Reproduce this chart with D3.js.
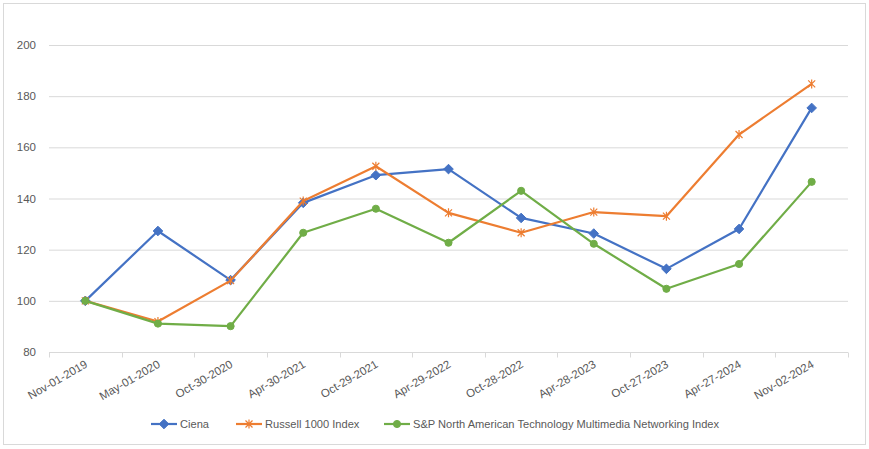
<!DOCTYPE html>
<html>
<head>
<meta charset="utf-8">
<script src="https://cdn.jsdelivr.net/npm/d3@7"></script>
<style>
body { margin: 0; background: #fff; }
svg text { font-family: "Liberation Sans", Arial, sans-serif; fill: #595959; }
</style>
</head>
<body>
<svg id="chart" width="869" height="449"></svg>
<script>
const dates = ['Nov-01-2019', 'May-01-2020', 'Oct-30-2020', 'Apr-30-2021', 'Oct-29-2021', 'Apr-29-2022',
               'Oct-28-2022', 'Apr-28-2023', 'Oct-27-2023', 'Apr-27-2024', 'Nov-02-2024'];
const ciena = [100, 127.3, 108.1, 138.3, 149.1, 151.5, 132.4, 126.3, 112.5, 128.1, 175.4];
const russell = [100, 91.9, 107.9, 139.0, 152.6, 134.4, 126.6, 134.7, 133.1, 165.0, 184.8];
const spNet = [100, 91.1, 90.1, 126.6, 136.0, 122.7, 143.0, 122.3, 104.7, 114.4, 146.5];
const yTicks = [80, 100, 120, 140, 160, 180, 200];
const seriesNames = ['Ciena', 'Russell 1000 Index', 'S&P North American Technology Multimedia Networking Index'];
const seriesColors = ['#4472C4', '#ED7D31', '#70AD47'];

const series = [ciena, russell, spNet].map((values, i) => ({
    name: seriesNames[i], color: seriesColors[i], marker: i, values
}));

const svg = d3.select('#chart');
svg.append('rect').attr('x', 3.5).attr('y', 3.5).attr('width', 862).attr('height', 441)
    .attr('fill', '#fff').attr('stroke', '#d9d9d9');

const left = 49, right = 848;
const x = d3.scaleBand().domain(dates).range([left, right]);
const y = d3.scaleLinear().domain([80, 200]).range([352, 45]);

// gridlines
svg.append('g').selectAll('line').data(yTicks.filter(t => t !== 80)).join('line')
    .attr('x1', left).attr('x2', right)
    .attr('y1', d => y(d) + 0.5).attr('y2', d => y(d) + 0.5)
    .attr('stroke', '#d9d9d9');

// y labels
svg.append('g').selectAll('text').data(yTicks).join('text')
    .attr('x', 36).attr('y', d => y(d) + 4)
    .attr('text-anchor', 'end').attr('font-size', 11.5)
    .text(d => d);

// x axis
const xAxis = svg.append('g').attr('transform', `translate(0,${y(80) + 0.5})`);
xAxis.append('line').attr('x1', left).attr('x2', right).attr('stroke', '#d9d9d9');
xAxis.selectAll('line.tick').data(d3.range(dates.length + 1)).join('line')
    .attr('class', 'tick')
    .attr('x1', i => Math.round(left + i * x.step()) + 0.5).attr('x2', i => Math.round(left + i * x.step()) + 0.5)
    .attr('y1', 0).attr('y2', 5).attr('stroke', '#d9d9d9');
xAxis.selectAll('text').data(dates).join('text')
    .attr('transform', d => `translate(${x(d) + x.bandwidth() / 2 + 3},14) rotate(-30)`)
    .attr('text-anchor', 'end').attr('font-size', 11.5)
    .text(d => d);

function markerPath(kind) {
    if (kind === 0) return 'M0,-4.8L4.8,0L0,4.8L-4.8,0Z';
    if (kind === 1) return 'M-3.5,-3.5L3.5,3.5M-3.5,3.5L3.5,-3.5M0,-4.5L0,4.5';
    return d3.symbol(d3.symbolCircle, 40)();
}

function drawMarker(sel, s) {
    sel.attr('d', markerPath(s.marker))
        .attr('fill', s.marker === 1 ? 'none' : s.color)
        .attr('stroke', s.color)
        .attr('stroke-width', s.marker === 1 ? 1.2 : 1);
}

const line = d3.line()
    .x((d, i) => x(dates[i]) + x.bandwidth() / 2)
    .y(d => y(d));

const plot = svg.append('g');
series.forEach(s => {
    const g = plot.append('g');
    g.append('path').attr('d', line(s.values))
        .attr('fill', 'none').attr('stroke', s.color).attr('stroke-width', 2.2)
        .attr('stroke-linejoin', 'round');
    g.selectAll('path.m').data(s.values).join('path')
        .attr('class', 'm')
        .attr('transform', (d, i) => `translate(${x(dates[i]) + x.bandwidth() / 2},${y(d)})`)
        .call(drawMarker, s);
});

// legend
const legendX = [151, 236, 384];
const legend = svg.append('g').attr('transform', 'translate(0,424)');
series.forEach((s, i) => {
    const g = legend.append('g').attr('transform', `translate(${legendX[i]},0)`);
    g.append('line').attr('x1', 0).attr('x2', 26).attr('stroke', s.color).attr('stroke-width', 2.2);
    g.append('path').attr('transform', 'translate(13,0)').call(drawMarker, s);
    g.append('text').attr('x', 29).attr('y', 4).attr('font-size', 11.1).text(s.name);
});
</script>
</body>
</html>
